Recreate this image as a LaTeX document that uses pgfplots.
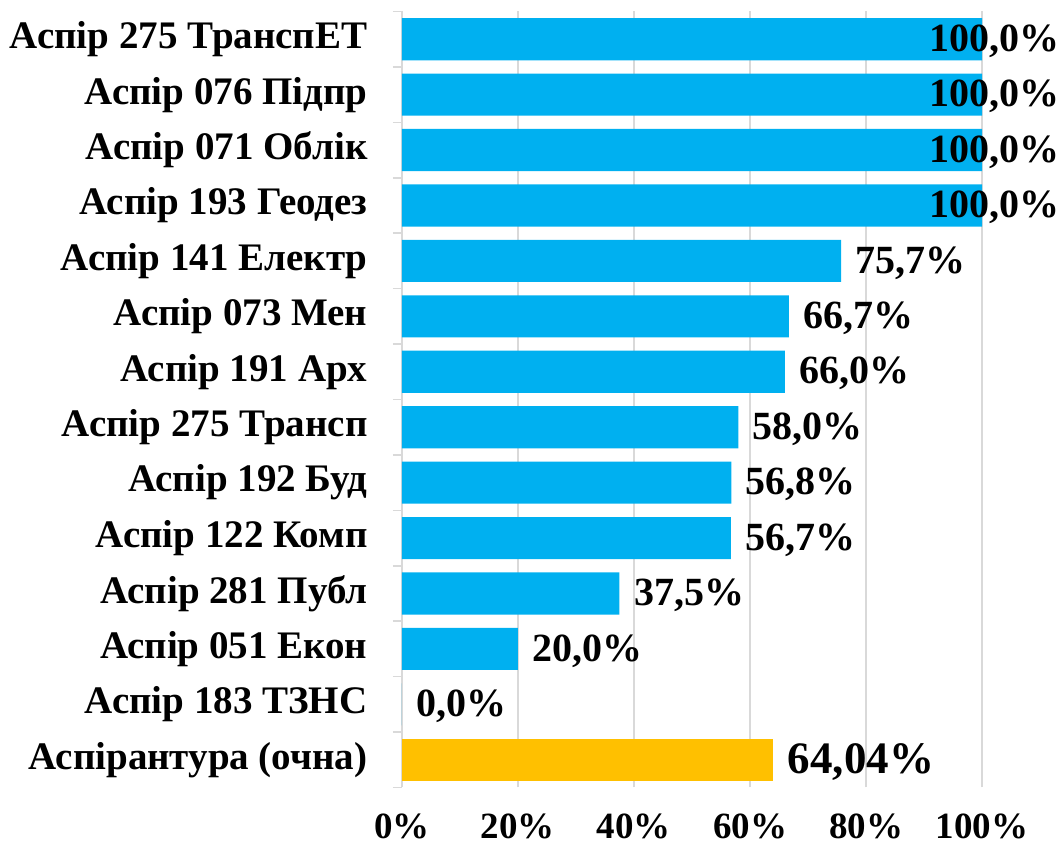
\documentclass[border=0pt]{standalone}
\usepackage{pgfplots}
\pgfplotsset{compat=1.18}
\usepackage{fontspec}
\setmainfont{Liberation Serif}
\definecolor{barblue}{HTML}{00B0F0}
\definecolor{baryel}{HTML}{FFC000}
\definecolor{gridg}{HTML}{D9D9D9}
\newcommand{\catfont}{\bfseries\fontsize{39}{41}\selectfont}
\newcommand{\valfont}{\bfseries\fontsize{40}{42}\selectfont}
\newcommand{\bigfont}{\bfseries\fontsize{45}{47}\selectfont}
\newcommand{\tickfont}{\bfseries\fontsize{37}{40}\selectfont}
\begin{document}
\begin{tikzpicture}
\useasboundingbox (-402pt,-62.5pt) rectangle (657pt,787.5pt);
\begin{axis}[
  at={(0,0)}, anchor=south west,
  scale only axis, width=580pt, height=776pt,
  xmin=0, xmax=100, ymin=-0.5, ymax=13.5,
  xbar, bar width=0.76, bar shift=0pt,
  clip=false,
  axis x line*=bottom, axis y line*=left,
  x axis line style={draw=none},
  y axis line style={draw=gridg, line width=1.5pt},
  xtick={0,20,...,100},
  xmajorgrids,
  major grid style={draw=gridg, line width=1.5pt},
  major x tick style={draw=none},
  xticklabel={\pgfmathprintnumber{\tick}\%},
  /pgf/number format/assume math mode=true,
  xticklabel style={font=\tickfont, yshift=-25pt, inner sep=1pt},
  ytick={0,...,13},
  yticklabels={Аспірантура (очна),Аспір 183 ТЗНС,Аспір 051 Екон,Аспір 281 Публ,Аспір 122 Комп,Аспір 192 Буд,Аспір 275 Трансп,Аспір 191 Арх,Аспір 073 Мен,Аспір 141 Електр,Аспір 193 Геодез,Аспір 071 Облік,Аспір 076 Підпр,Аспір 275 ТранспЕТ},
  major y tick style={draw=none},
  major tick length=0pt,
  minor ytick={-0.5,0.5,...,13.5},
  minor tick length=9pt,
  tick align=outside,
  minor y tick style={draw=gridg, line width=1.5pt},
  yticklabel style={font=\catfont, xshift=-31pt},
  point meta=x,
]
\addplot[fill=barblue, draw=none,
  nodes near coords={\pgfmathprintnumber[fixed,fixed zerofill,precision=1,use comma]{\pgfplotspointmeta}\%},
  every node near coord/.append style={anchor=east, xshift=79pt, yshift=-2pt, font=\valfont, text=black, inner sep=1pt}]
  coordinates {(100,13) (100,12) (100,11) (100,10)};
\addplot[fill=barblue, draw=none,
  nodes near coords={\pgfmathprintnumber[fixed,fixed zerofill,precision=1,use comma]{\pgfplotspointmeta}\%},
  every node near coord/.append style={anchor=west, xshift=11pt, yshift=-2pt, font=\valfont, text=black}]
  coordinates {(75.7,9) (66.7,8) (66.0,7) (58.0,6) (56.8,5) (56.7,4) (37.5,3) (20.0,2) (0,1)};
\addplot[fill=baryel, draw=none,
  nodes near coords={\pgfmathprintnumber[fixed,fixed zerofill,precision=2,use comma]{\pgfplotspointmeta}\%},
  every node near coord/.append style={anchor=west, xshift=11pt, yshift=-2pt, font=\bigfont, text=black}]
  coordinates {(64.04,0)};
\end{axis}
\end{tikzpicture}
\end{document}
